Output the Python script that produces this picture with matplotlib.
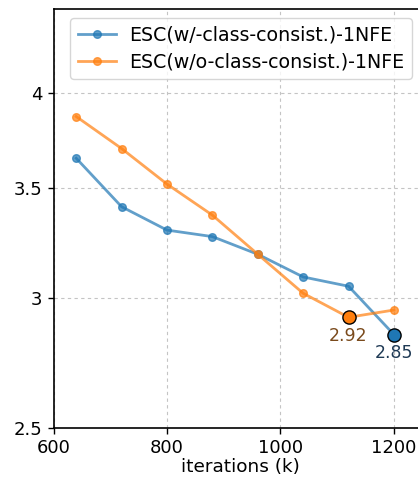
import matplotlib
matplotlib.use("Agg")
import matplotlib.pyplot as plt
from matplotlib.ticker import FixedLocator, FixedFormatter, NullLocator

iters = [640, 720, 800, 880, 960, 1040, 1120, 1200]
with_cc = [3.65, 3.41, 3.30, 3.27, 3.19, 3.09, 3.05, 2.85]
without_cc = [3.87, 3.70, 3.52, 3.37, 3.19, 3.02, 2.92, 2.95]
labels = ["ESC(w/-class-consist.)-1NFE", "ESC(w/o-class-consist.)-1NFE"]
yticks = [2.5, 3, 3.5, 4]
ytick_labels = ["2.5", "3", "3.5", "4"]
xticks = [600, 800, 1000, 1200]
best_with = (1200, 2.85)
best_without = (1120, 2.92)

blue = "#1f77b4"
orange = "#ff7f0e"
fs = 12.5

fig = plt.figure(figsize=(4.18, 4.83), dpi=100)
ax = fig.add_axes([53.5/418, 1-428/483, (428-53.5)/418, (428-9)/483])

ax.plot(iters, with_cc, "-o", color=blue, alpha=0.7, lw=2.0, ms=5.5, label=labels[0])
ax.plot(iters, without_cc, "-o", color=orange, alpha=0.7, lw=2.0, ms=5.5, label=labels[1])

ax.plot(*best_without, "o", color=orange, ms=9.5, mec="black", mew=1.0, zorder=5)
ax.plot(*best_with, "o", color=blue, ms=9.5, mec="black", mew=1.0, zorder=5)
ax.annotate(f"{best_without[1]:.2f}", best_without, xytext=(0, -7), textcoords="offset points",
            ha="center", va="top", fontsize=fs, color="#7a4a1c")
ax.annotate(f"{best_with[1]:.2f}", best_with, xytext=(0, -7), textcoords="offset points",
            ha="center", va="top", fontsize=fs, color="#1f3a55")

ax.set_yscale("log")
ax.set_ylim(2.5, 4.5)
ax.set_xlim(600, 1260)
ax.yaxis.set_major_locator(FixedLocator(yticks))
ax.yaxis.set_major_formatter(FixedFormatter(ytick_labels))
ax.yaxis.set_minor_locator(NullLocator())
ax.set_xticks(xticks)
ax.tick_params(labelsize=13, length=4.5, width=1)
ax.grid(True, linestyle=(0, (3, 3)), color="#c4c4c4", lw=0.8)
ax.set_axisbelow(True)
for s in ax.spines.values():
    s.set_linewidth(1.2)
ax.set_xlabel("iterations (k)", fontsize=13.3, labelpad=1)

leg = ax.legend(loc="upper right", bbox_to_anchor=(412/418, 1-18/483), bbox_transform=fig.transFigure,
                fontsize=13.7, borderaxespad=0, handlelength=2.0, framealpha=0.8, borderpad=0.4,
                labelspacing=0.4, handletextpad=0.7)

fig.savefig("out.png", dpi=100)
